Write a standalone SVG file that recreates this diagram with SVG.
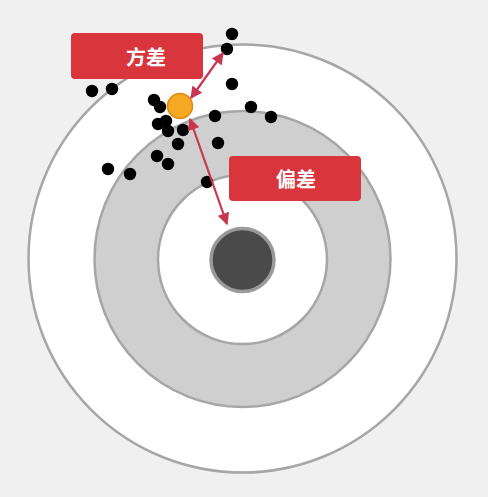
<svg xmlns="http://www.w3.org/2000/svg" width="488" height="497" viewBox="0 0 488 497">
<defs>
<style>
.dot{fill:#000}
.ring{stroke:#a6a6a6;stroke-width:2.5}
.lbl rect{fill:#d8353d}
.lbl text{fill:#fff;font-family:"Noto Sans CJK SC","Noto Sans",sans-serif;font-size:20px;font-weight:bold;text-anchor:middle;dominant-baseline:central}
.arr{stroke:#c93650;stroke-width:2.2;fill:none;marker-start:url(#ah);marker-end:url(#ah)}
</style>
<marker id="ah" viewBox="0 0 10 10" refX="9" refY="5" markerWidth="5.5" markerHeight="5.5" orient="auto-start-reverse" markerUnits="strokeWidth">
<path d="M0,0 L10,5 L0,10 z" fill="#c93650"/>
</marker>
</defs>
<rect x="0" y="0" width="488" height="497" fill="#f0f0f0"/>
<g id="target">
<circle class="ring" cx="242.5" cy="258.5" r="214" fill="#fff"/>
<circle class="ring" cx="242.5" cy="259" r="148" fill="#cfcfcf"/>
<circle class="ring" cx="242.5" cy="259.5" r="84.5" fill="#fff"/>
<circle cx="242.5" cy="260" r="31.5" fill="#4a4a4a" stroke="#9a9a9a" stroke-width="3.5"/>
</g>
<g id="points">
<circle class="dot" cx="232" cy="34" r="6.2"/>
<circle class="dot" cx="227" cy="49" r="6.2"/>
<circle class="dot" cx="92" cy="91" r="6.2"/>
<circle class="dot" cx="112" cy="89" r="6.2"/>
<circle class="dot" cx="232" cy="84" r="6.2"/>
<circle class="dot" cx="154" cy="100" r="6.2"/>
<circle class="dot" cx="160" cy="107" r="6.2"/>
<circle class="dot" cx="251" cy="107" r="6.2"/>
<circle class="dot" cx="271" cy="117" r="6.2"/>
<circle class="dot" cx="215" cy="116" r="6.2"/>
<circle class="dot" cx="158" cy="124" r="6.2"/>
<circle class="dot" cx="166" cy="121" r="6.2"/>
<circle class="dot" cx="168" cy="131" r="6.2"/>
<circle class="dot" cx="183" cy="130" r="6.2"/>
<circle class="dot" cx="178" cy="144" r="6.2"/>
<circle class="dot" cx="218" cy="143" r="6.2"/>
<circle class="dot" cx="157" cy="156" r="6.2"/>
<circle class="dot" cx="168" cy="164" r="6.2"/>
<circle class="dot" cx="108" cy="169" r="6.2"/>
<circle class="dot" cx="130" cy="174" r="6.2"/>
<circle class="dot" cx="207" cy="182" r="6.2"/>
</g>
<g id="mean">
<circle cx="180" cy="106" r="12.5" fill="#f7a823" stroke="#d98a10" stroke-width="1.5"/>
</g>
<g id="connectors">
<line class="arr" x1="191" y1="98" x2="223" y2="53"/>
<line class="arr" x1="190" y1="119" x2="227" y2="224"/>
</g>
<g id="variance" class="lbl">
<rect x="71" y="33" width="132" height="46" rx="4"/>
<text x="146" y="56">方差</text>
</g>
<g id="bias" class="lbl">
<rect x="229" y="156" width="132" height="45" rx="4"/>
<text x="296" y="178">偏差</text>
</g>
</svg>
